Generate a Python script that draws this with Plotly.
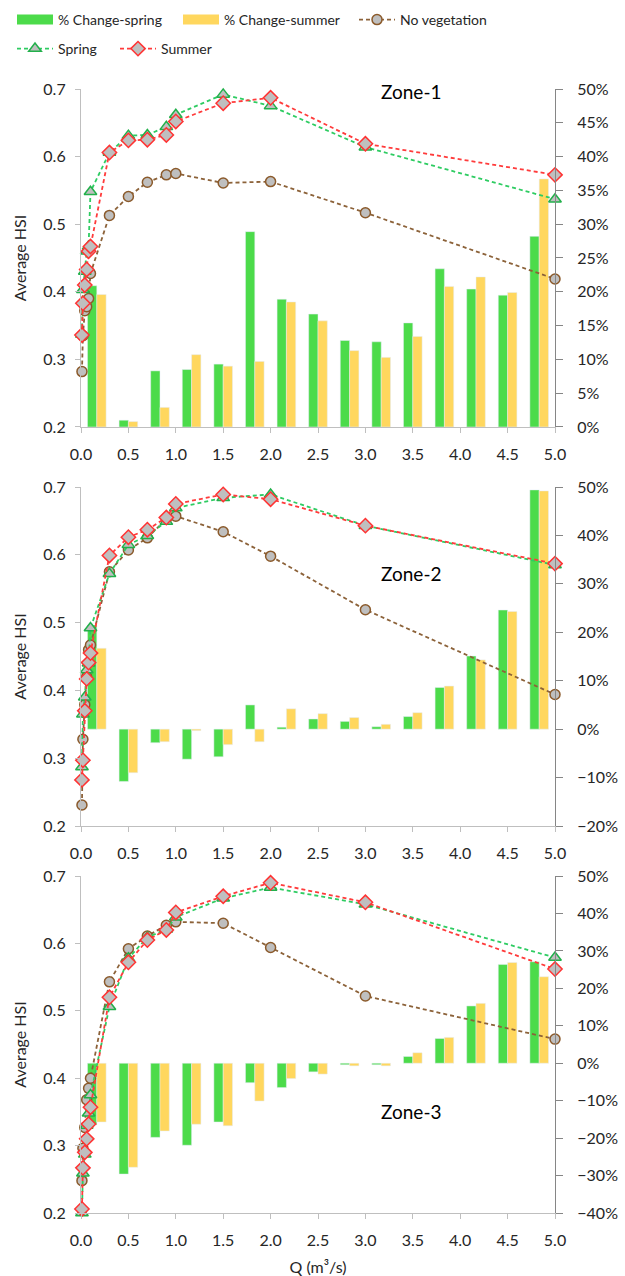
import plotly.graph_objects as go

# Discharge values (m3/s) at which habitat suitability was computed
Q = [0.01, 0.02, 0.04, 0.06, 0.08, 0.1, 0.3, 0.5, 0.7, 0.9, 1.0, 1.5, 2.0, 3.0, 5.0]
categories = [str(q) for q in Q]

# Average HSI per zone
z1_noveg = [0.282, 0.335, 0.372, 0.378, 0.39, 0.427, 0.513, 0.541, 0.562, 0.573, 0.575, 0.561, 0.563, 0.517, 0.419]
z1_spring = [0.337, 0.403, 0.43, 0.46, 0.467, 0.548, 0.606, 0.631, 0.632, 0.644, 0.662, 0.692, 0.675, 0.614, 0.537]
z1_summer = [0.336, 0.383, 0.41, 0.433, 0.46, 0.467, 0.606, 0.624, 0.625, 0.632, 0.652, 0.679, 0.687, 0.619, 0.573]

z2_noveg = [0.231, 0.328, 0.379, 0.42, 0.46, 0.467, 0.575, 0.607, 0.625, 0.653, 0.657, 0.634, 0.598, 0.519, 0.394]
z2_spring = [0.287, 0.365, 0.39, 0.43, 0.44, 0.492, 0.572, 0.615, 0.628, 0.649, 0.669, 0.684, 0.689, 0.643, 0.585]
z2_summer = [0.268, 0.297, 0.37, 0.417, 0.441, 0.455, 0.599, 0.626, 0.637, 0.655, 0.675, 0.689, 0.682, 0.643, 0.587]

z3_noveg = [0.248, 0.296, 0.327, 0.368, 0.385, 0.40, 0.543, 0.592, 0.611, 0.627, 0.632, 0.630, 0.594, 0.522, 0.458]
z3_spring = [0.20, 0.259, 0.287, 0.33, 0.348, 0.375, 0.506, 0.578, 0.609, 0.621, 0.639, 0.667, 0.683, 0.658, 0.579]
z3_summer = [0.206, 0.267, 0.29, 0.31, 0.332, 0.357, 0.52, 0.572, 0.605, 0.620, 0.646, 0.670, 0.690, 0.661, 0.562]

# Percentage change relative to no vegetation
z1_chg_spring = [0.209, 0.010, 0.083, 0.085, 0.093, 0.289, 0.189, 0.167, 0.128, 0.126, 0.154, 0.234, 0.204, 0.195, 0.282]
z1_chg_summer = [0.196, 0.008, 0.029, 0.107, 0.090, 0.097, 0.185, 0.157, 0.113, 0.103, 0.134, 0.208, 0.222, 0.199, 0.367]

z2_chg_spring = [0.215, -0.108, -0.028, -0.062, -0.057, 0.050, 0.004, 0.021, 0.016, 0.005, 0.026, 0.086, 0.151, 0.246, 0.494]
z2_chg_summer = [0.167, -0.090, -0.026, -0.003, -0.032, -0.026, 0.042, 0.032, 0.024, 0.010, 0.034, 0.089, 0.143, 0.243, 0.492]

z3_chg_spring = [-0.165, -0.296, -0.198, -0.219, -0.157, -0.052, -0.065, -0.023, -0.004, -0.004, 0.018, 0.066, 0.153, 0.264, 0.271]
z3_chg_summer = [-0.157, -0.278, -0.181, -0.163, -0.167, -0.101, -0.041, -0.029, -0.007, -0.007, 0.028, 0.069, 0.160, 0.269, 0.231]

zones = [
    dict(name="Zone-1", noveg=z1_noveg, spring=z1_spring, summer=z1_summer,
         cs=z1_chg_spring, cu=z1_chg_summer, prange=[0, 0.5], pdtick=0.05,
         domain=[0.6993, 1.0], label_y=0.9980),
    dict(name="Zone-2", noveg=z2_noveg, spring=z2_spring, summer=z2_summer,
         cs=z2_chg_spring, cu=z2_chg_summer, prange=[-0.2, 0.5], pdtick=0.1,
         domain=[0.3443, 0.6459], label_y=0.5690),
    dict(name="Zone-3", noveg=z3_noveg, spring=z3_spring, summer=z3_summer,
         cs=z3_chg_spring, cu=z3_chg_summer, prange=[-0.4, 0.5], pdtick=0.1,
         domain=[0.0, 0.2998], label_y=0.0900),
]

FONT = "Lato"
TXT = "#262626"
GREEN_BAR = "#4CDB4A"
YELLOW_BAR = "#FFD75E"
BROWN = "#8C6239"
GREEN_LN = "#2ECC62"
RED_LN = "#FF3B3B"
MFILL = "#BFBFBF"
DASH = "4px,3px"


def ref(axis, n):
    return axis if n == 1 else f"{axis}{n}"


fig = go.Figure()
layout = {}
annotations = []

for k, z in enumerate(zones):
    nb = 2 * k + 1  # bars: category x, percent y (right)
    nl = 2 * k + 2  # lines: numeric x, HSI y (left)
    first = k == 0

    fig.add_trace(go.Bar(
        x=categories, y=z["cs"], name="% Change-spring", marker_color=GREEN_BAR,
        xaxis=ref("x", nb), yaxis=ref("y", nb), legendgroup="cs", showlegend=False))
    fig.add_trace(go.Bar(
        x=categories, y=z["cu"], name="% Change-summer", marker_color=YELLOW_BAR,
        xaxis=ref("x", nb), yaxis=ref("y", nb), legendgroup="cu", showlegend=False))

    fig.add_trace(go.Scatter(
        x=Q, y=z["noveg"], name="No vegetation", mode="lines+markers", cliponaxis=False,
        line=dict(color=BROWN, width=1.8, dash=DASH),
        marker=dict(symbol="circle", size=10, color=MFILL, line=dict(color="#8B5A2B", width=1.5)),
        xaxis=ref("x", nl), yaxis=ref("y", nl), legendgroup="nv", showlegend=first,
        legend="legend3"))
    fig.add_trace(go.Scatter(
        x=Q, y=z["spring"], name="Spring", mode="lines+markers", cliponaxis=False,
        line=dict(color=GREEN_LN, width=1.8, dash=DASH),
        marker=dict(symbol="triangle-up", size=11, color=MFILL, line=dict(color="#22B04B", width=1.5)),
        xaxis=ref("x", nl), yaxis=ref("y", nl), legendgroup="sp", showlegend=first,
        legend="legend4"))
    fig.add_trace(go.Scatter(
        x=Q, y=z["summer"], name="Summer", mode="lines+markers", cliponaxis=False,
        line=dict(color=RED_LN, width=1.8, dash=DASH),
        marker=dict(symbol="diamond", size=11, color=MFILL, line=dict(color="#FF3333", width=1.5)),
        xaxis=ref("x", nl), yaxis=ref("y", nl), legendgroup="su", showlegend=first,
        legend="legend5"))

    layout[ref("xaxis", nb)] = dict(
        type="category", range=[-0.5, 14.5], domain=[0, 1], visible=False,
        anchor=ref("y", nb), automargin=False)
    layout[ref("yaxis", nb)] = dict(
        domain=z["domain"], range=z["prange"], dtick=z["pdtick"], tick0=0,
        tickformat=".0%", side="right", anchor=ref("x", nb), automargin=False,
        showline=True, linecolor="#868686", linewidth=1.2,
        ticks="outside", ticklen=7, tickcolor="#868686",
        showgrid=False, zeroline=False,
        tickfont=dict(family=FONT, size=16, color=TXT), ticklabelstandoff=11)
    layout[ref("xaxis", nl)] = dict(
        range=[0, 5], dtick=0.5, tick0=0, tickformat=".1f",
        overlaying=ref("x", nb), anchor=ref("y", nl), side="bottom", automargin=False,
        showline=True, linecolor="#BFBFBF", linewidth=1.2,
        ticks="outside", ticklen=5, tickcolor="#BFBFBF",
        showgrid=False, zeroline=False,
        tickfont=dict(family=FONT, size=16, color=TXT), ticklabelstandoff=8,
        title=dict(text="Q (m³/s)" if k == 2 else "",
                   font=dict(family=FONT, size=16, color=TXT), standoff=20))
    layout[ref("yaxis", nl)] = dict(
        range=[0.2, 0.7], dtick=0.1, tick0=0.2, tickformat=".1f",
        overlaying=ref("y", nb), anchor=ref("x", nl), side="left", automargin=False,
        showline=True, linecolor="#BFBFBF", linewidth=1.2,
        ticks="outside", ticklen=5, tickcolor="#BFBFBF",
        showgrid=False, zeroline=False,
        tickfont=dict(family=FONT, size=16, color=TXT), ticklabelstandoff=6,
        title=dict(text="Average HSI", font=dict(family=FONT, size=16, color=TXT), standoff=12))

    annotations.append(dict(
        text=z["name"], xref="paper", yref="paper", x=0.696, y=z["label_y"],
        showarrow=False, font=dict(family=FONT, size=19, color="#000000"),
        xanchor="center", yanchor="middle"))

# Legend keys for the bar series, drawn as wide swatches
fig.add_trace(go.Scatter(
    x=[None], y=[None], mode="lines", name="% Change-spring",
    line=dict(color=GREEN_BAR, width=10), legendgroup="cs", legend="legend",
    xaxis="x2", yaxis="y2", hoverinfo="skip"))
fig.add_trace(go.Scatter(
    x=[None], y=[None], mode="lines", name="% Change-summer",
    line=dict(color=YELLOW_BAR, width=10), legendgroup="cu", legend="legend2",
    xaxis="x2", yaxis="y2", hoverinfo="skip"))

legend_common = dict(
    orientation="h", xanchor="left", yanchor="middle",
    xref="container", yref="container",
    font=dict(family=FONT, size=14, color=TXT),
    itemwidth=36, tracegroupgap=0, bgcolor="rgba(0,0,0,0)",
)
ROW1, ROW2 = 1 - 20 / 1276, 1 - 49 / 1276

fig.update_layout(
    width=625, height=1276,
    margin=dict(l=81, r=70, t=89, b=63, autoexpand=False),
    paper_bgcolor="white", plot_bgcolor="white",
    barmode="group", bargap=0.41, bargroupgap=0,
    font=dict(family=FONT, size=16, color=TXT),
    legend=dict(x=12 / 625, y=ROW1, **legend_common),
    legend2=dict(x=178 / 625, y=ROW1, **legend_common),
    legend3=dict(x=354 / 625, y=ROW1, **legend_common),
    legend4=dict(x=12 / 625, y=ROW2, **legend_common),
    legend5=dict(x=115 / 625, y=ROW2, **legend_common),
    annotations=annotations,
    **layout,
)

fig.write_html("out.html")
